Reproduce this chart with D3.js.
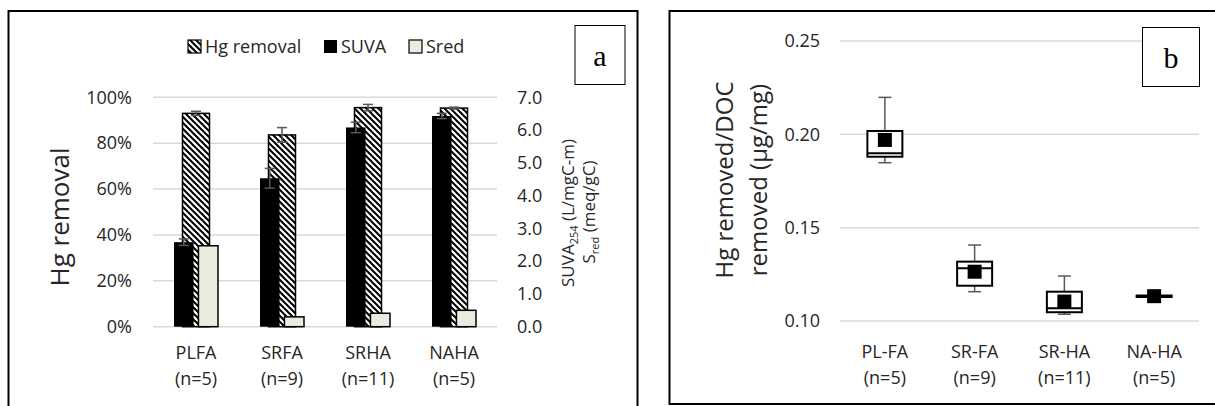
<!DOCTYPE html>
<html>
<head>
<meta charset="utf-8">
<script src="https://cdn.jsdelivr.net/npm/d3@7"></script>
<style>
  html, body { margin: 0; padding: 0; background: #fff; }
  svg { display: block; font-family: "Open Sans", sans-serif; }
</style>
</head>
<body>
<svg id="chart" width="1215" height="406"></svg>
<script>
// ---- Panel a: Hg removal (left axis) with SUVA254 and Sred (right axis)
const categoriesA = ["PLFA", "SRFA", "SRHA", "NAHA"];
const nLabelsA = ["(n=5)", "(n=9)", "(n=11)", "(n=5)"];
const hgRemoval = [0.930, 0.836, 0.955, 0.953];
const hgRemovalErr = [0.009, 0.032, 0.014, 0.004];
const suva = [2.58, 4.53, 6.08, 6.43];
const suvaErr = [0.10, 0.30, 0.16, 0.08];
const sred = [2.47, 0.30, 0.41, 0.50];
const leftTicksA = [0, 0.2, 0.4, 0.6, 0.8, 1.0];
const rightTicksA = [0, 1, 2, 3, 4, 5, 6, 7];

// ---- Panel b: Hg removed per DOC removed, box plots
const categoriesB = ["PL-FA", "SR-FA", "SR-HA", "NA-HA"];
const nLabelsB = ["(n=5)", "(n=9)", "(n=11)", "(n=5)"];
const boxMin = [0.1848, 0.1157, 0.1036, 0.1133];
const boxQ1 = [0.1880, 0.1189, 0.1047, 0.1133];
const boxMedian = [0.1898, 0.1282, 0.1068, 0.1133];
const boxQ3 = [0.2018, 0.1318, 0.1157, 0.1133];
const boxMax = [0.2198, 0.1407, 0.1241, 0.1133];
const boxMean = [0.1970, 0.1264, 0.1104, 0.1133];
const ticksB = [0.10, 0.15, 0.20, 0.25];

const svg = d3.select("#chart");
const textColor = "#262626";
const gridColor = "#d9d9d9";
const errColor = "#595959";
const sredFill = "#ecebe0";

// diagonal hatch for the Hg removal bars
const defs = svg.append("defs");
const pat = defs.append("pattern")
  .attr("id", "hatch")
  .attr("patternUnits", "userSpaceOnUse")
  .attr("width", 6).attr("height", 6);
pat.append("rect").attr("width", 6).attr("height", 6).attr("fill", "#fff");
pat.append("path")
  .attr("d", "M-3,3 L3,9 M0,0 L6,6 M3,-3 L9,3")
  .attr("stroke", "#000").attr("stroke-width", 2);

// ================= Panel a =================
const gA = svg.append("g");
gA.append("rect")
  .attr("x", 8.5).attr("y", 11).attr("width", 629).attr("height", 420)
  .attr("fill", "none").attr("stroke", "#000").attr("stroke-width", 2);

const xA = d3.scaleBand().domain(categoriesA).range([153, 497]);
const yL = d3.scaleLinear().domain([0, 1]).range([326.7, 97.3]);
const yR = d3.scaleLinear().domain([0, 7]).range([326.7, 97.3]);
const inner = d3.scaleBand().domain(["SUVA", "Sred"]).range([-22, 22]).paddingInner(0.2);
const hgHalf = 13.5;

// gridlines
gA.append("g").selectAll("line").data(leftTicksA).join("line")
  .attr("x1", xA.range()[0]).attr("x2", xA.range()[1])
  .attr("y1", d => yL(d)).attr("y2", d => yL(d))
  .attr("stroke", gridColor).attr("stroke-width", 1.5);

// left axis
const axL = gA.append("g").attr("transform", `translate(${xA.range()[0]},0)`)
  .call(d3.axisLeft(yL).tickValues(leftTicksA).tickFormat(d3.format(".0%")).tickSize(0).tickPadding(21));
axL.select(".domain").remove();
axL.selectAll("text").attr("font-size", 18).attr("font-family", "Open Sans").attr("fill", textColor);

// right axis
const axR = gA.append("g").attr("transform", `translate(${xA.range()[1]},0)`)
  .call(d3.axisRight(yR).tickValues(rightTicksA).tickFormat(d3.format(".1f")).tickSize(0).tickPadding(20));
axR.select(".domain").remove();
axR.selectAll("text").attr("font-size", 18).attr("font-family", "Open Sans").attr("fill", textColor);

// category labels
const catA = gA.append("g").selectAll("g").data(categoriesA).join("g")
  .attr("transform", d => `translate(${xA(d) + xA.bandwidth() / 2},0)`);
catA.append("text").attr("y", 359).attr("text-anchor", "middle")
  .attr("font-size", 18).attr("fill", textColor).text(d => d);
catA.append("text").attr("y", 385).attr("text-anchor", "middle")
  .attr("font-size", 18).attr("fill", textColor).text((d, i) => nLabelsA[i]);

// Hg removal bars (primary axis, drawn first)
const cx = d => xA(d) + xA.bandwidth() / 2;
gA.append("g").selectAll("rect").data(categoriesA).join("rect")
  .attr("x", d => cx(d) - hgHalf)
  .attr("y", (d, i) => yL(hgRemoval[i]))
  .attr("width", hgHalf * 2)
  .attr("height", (d, i) => yL(0) - yL(hgRemoval[i]))
  .attr("fill", "url(#hatch)").attr("stroke", "#000").attr("stroke-width", 1.5);

// Hg removal error bars
const errHg = gA.append("g").attr("stroke", errColor).attr("stroke-width", 1.5);
categoriesA.forEach((c, i) => {
  const x = cx(c), lo = yL(hgRemoval[i] - hgRemovalErr[i]), hi = yL(hgRemoval[i] + hgRemovalErr[i]);
  errHg.append("line").attr("x1", x).attr("x2", x).attr("y1", lo).attr("y2", hi);
  errHg.append("line").attr("x1", x - 5).attr("x2", x + 5).attr("y1", lo).attr("y2", lo);
  errHg.append("line").attr("x1", x - 5).attr("x2", x + 5).attr("y1", hi).attr("y2", hi);
});

// SUVA bars (secondary axis)
gA.append("g").selectAll("rect").data(categoriesA).join("rect")
  .attr("x", d => cx(d) + inner("SUVA"))
  .attr("y", (d, i) => yR(suva[i]))
  .attr("width", inner.bandwidth())
  .attr("height", (d, i) => yR(0) - yR(suva[i]))
  .attr("fill", "#000");

// Sred bars (secondary axis)
gA.append("g").selectAll("rect").data(categoriesA).join("rect")
  .attr("x", d => cx(d) + inner("Sred"))
  .attr("y", (d, i) => yR(sred[i]))
  .attr("width", inner.bandwidth())
  .attr("height", (d, i) => yR(0) - yR(sred[i]))
  .attr("fill", sredFill).attr("stroke", "#000").attr("stroke-width", 1.5);

// SUVA error bars
const errS = gA.append("g").attr("stroke", errColor).attr("stroke-width", 1.5);
categoriesA.forEach((c, i) => {
  const x = cx(c) + inner("SUVA") + inner.bandwidth() / 2;
  const lo = yR(suva[i] - suvaErr[i]), hi = yR(suva[i] + suvaErr[i]);
  errS.append("line").attr("x1", x).attr("x2", x).attr("y1", lo).attr("y2", hi);
  errS.append("line").attr("x1", x - 5).attr("x2", x + 5).attr("y1", lo).attr("y2", lo);
  errS.append("line").attr("x1", x - 5).attr("x2", x + 5).attr("y1", hi).attr("y2", hi);
});

// axis titles
gA.append("text").attr("transform", "translate(69,217) rotate(-90)")
  .attr("text-anchor", "middle").attr("font-size", 26).attr("fill", textColor).text("Hg removal");
const tSuva = gA.append("text").attr("transform", "translate(574,213) rotate(-90)")
  .attr("text-anchor", "middle").attr("font-size", 17).attr("fill", textColor);
tSuva.append("tspan").text("SUVA");
tSuva.append("tspan").attr("font-size", 11).attr("dy", 4).text("254");
tSuva.append("tspan").attr("dy", -4).text(" (L/mgC-m)");
const tSred = gA.append("text").attr("transform", "translate(595,212) rotate(-90)")
  .attr("text-anchor", "middle").attr("font-size", 17).attr("fill", textColor);
tSred.append("tspan").text("S");
tSred.append("tspan").attr("font-size", 11).attr("dy", 4).text("red");
tSred.append("tspan").attr("dy", -4).text(" (meq/gC)");

// legend
const legA = gA.append("g").attr("font-size", 18).attr("fill", textColor);
const legendItems = [
  { label: "Hg removal", x: 188, fill: "url(#hatch)", stroke: "#000" },
  { label: "SUVA", x: 324, fill: "#000", stroke: "none" },
  { label: "Sred", x: 409, fill: sredFill, stroke: "#000" }
];
legendItems.forEach(it => {
  legA.append("rect").attr("x", it.x).attr("y", 40).attr("width", 13).attr("height", 13)
    .attr("fill", it.fill).attr("stroke", it.stroke).attr("stroke-width", 1.2);
  legA.append("text").attr("x", it.x + 17).attr("y", 53).text(it.label);
});

// panel tag "a"
gA.append("rect").attr("x", 575).attr("y", 25.5).attr("width", 50).attr("height", 59)
  .attr("fill", "#fff").attr("stroke", "#000").attr("stroke-width", 1);
gA.append("text").attr("x", 600).attr("y", 66).attr("text-anchor", "middle")
  .attr("font-family", "Liberation Serif").attr("font-size", 30).attr("fill", "#000").text("a");

// ================= Panel b =================
const gB = svg.append("g");
gB.append("rect")
  .attr("x", 669.5).attr("y", 11).attr("width", 560).attr("height", 393)
  .attr("fill", "none").attr("stroke", "#000").attr("stroke-width", 2);

const xB = d3.scaleBand().domain(categoriesB).range([840, 1199]);
const yB = d3.scaleLinear().domain([0.10, 0.25]).range([321, 41]);

gB.append("g").selectAll("line").data(ticksB).join("line")
  .attr("x1", xB.range()[0]).attr("x2", xB.range()[1])
  .attr("y1", d => yB(d)).attr("y2", d => yB(d))
  .attr("stroke", gridColor).attr("stroke-width", 1.5);

const axB = gB.append("g").attr("transform", `translate(${xB.range()[0]},0)`)
  .call(d3.axisLeft(yB).tickValues(ticksB).tickFormat(d3.format(".2f")).tickSize(0).tickPadding(20));
axB.select(".domain").remove();
axB.selectAll("text").attr("font-size", 18).attr("font-family", "Open Sans").attr("fill", textColor);

const catB = gB.append("g").selectAll("g").data(categoriesB).join("g")
  .attr("transform", d => `translate(${xB(d) + xB.bandwidth() / 2},0)`);
catB.append("text").attr("y", 358).attr("text-anchor", "middle")
  .attr("font-size", 18).attr("fill", textColor).text(d => d);
catB.append("text").attr("y", 384).attr("text-anchor", "middle")
  .attr("font-size", 18).attr("fill", textColor).text((d, i) => nLabelsB[i]);

// box plots
const boxHalf = 17.5;
const capHalf = 6.5;
categoriesB.forEach((c, i) => {
  const x = xB(c) + xB.bandwidth() / 2;
  const g = gB.append("g");
  // whiskers
  g.append("line").attr("x1", x).attr("x2", x).attr("y1", yB(boxQ3[i])).attr("y2", yB(boxMax[i]))
    .attr("stroke", errColor).attr("stroke-width", 1.5);
  g.append("line").attr("x1", x).attr("x2", x).attr("y1", yB(boxQ1[i])).attr("y2", yB(boxMin[i]))
    .attr("stroke", errColor).attr("stroke-width", 1.5);
  if (boxMax[i] > boxQ3[i]) {
    g.append("line").attr("x1", x - capHalf).attr("x2", x + capHalf)
      .attr("y1", yB(boxMax[i])).attr("y2", yB(boxMax[i])).attr("stroke", errColor).attr("stroke-width", 1.5);
  }
  if (boxMin[i] < boxQ1[i]) {
    g.append("line").attr("x1", x - capHalf).attr("x2", x + capHalf)
      .attr("y1", yB(boxMin[i])).attr("y2", yB(boxMin[i])).attr("stroke", errColor).attr("stroke-width", 1.5);
  }
  // box
  const h = yB(boxQ1[i]) - yB(boxQ3[i]);
  if (h > 0.5) {
    g.append("rect").attr("x", x - boxHalf).attr("y", yB(boxQ3[i]))
      .attr("width", boxHalf * 2).attr("height", h)
      .attr("fill", "#fff").attr("stroke", "#000").attr("stroke-width", 2);
    g.append("line").attr("x1", x - boxHalf).attr("x2", x + boxHalf)
      .attr("y1", yB(boxMedian[i])).attr("y2", yB(boxMedian[i]))
      .attr("stroke", "#000").attr("stroke-width", 2);
  } else {
    g.append("line").attr("x1", x - boxHalf - 1).attr("x2", x + boxHalf + 1)
      .attr("y1", yB(boxMedian[i])).attr("y2", yB(boxMedian[i]))
      .attr("stroke", "#000").attr("stroke-width", 3.5);
  }
  // mean marker
  g.append("rect").attr("x", x - 7).attr("y", yB(boxMean[i]) - 7)
    .attr("width", 14).attr("height", 14).attr("fill", "#000");
});

// y-axis title
const tB = gB.append("text").attr("transform", "translate(0,180)")
  .attr("text-anchor", "middle").attr("font-size", 24).attr("fill", textColor);
gB.append("text").attr("transform", "translate(733,180) rotate(-90)")
  .attr("text-anchor", "middle").attr("font-size", 24).attr("fill", textColor).text("Hg removed/DOC");
gB.append("text").attr("transform", "translate(767,180) rotate(-90)")
  .attr("text-anchor", "middle").attr("font-size", 24).attr("fill", textColor).text("removed (µg/mg)");
tB.remove();

// panel tag "b"
gB.append("rect").attr("x", 1142.5).attr("y", 27.5).attr("width", 57).attr("height", 59)
  .attr("fill", "#fff").attr("stroke", "#000").attr("stroke-width", 1);
gB.append("text").attr("x", 1171).attr("y", 68).attr("text-anchor", "middle")
  .attr("font-family", "Liberation Serif").attr("font-size", 30).attr("fill", "#000").text("b");
</script>
</body>
</html>
